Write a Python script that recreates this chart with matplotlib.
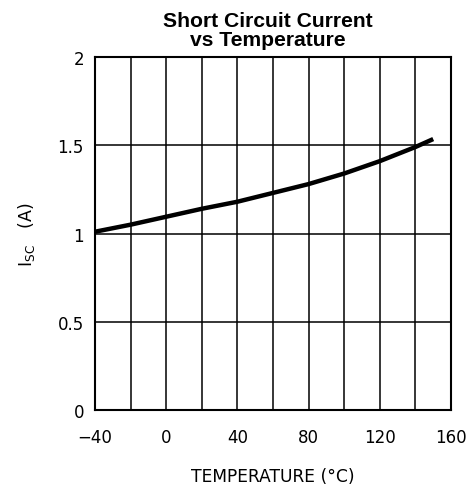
import matplotlib
matplotlib.use("Agg")
import matplotlib.pyplot as plt
from matplotlib.ticker import MultipleLocator

# values
temp_c = [-40, -20, 0, 20, 40, 60, 80, 100, 120, 140, 150]
isc_a = [1.01, 1.05, 1.095, 1.14, 1.18, 1.23, 1.28, 1.34, 1.41, 1.49, 1.535]

x_ticks = [-40, 0, 40, 80, 120, 160]
y_ticks = [0, 0.5, 1, 1.5, 2]
y_tick_labels = ['0', '0.5', '1', '1.5', '2']

plt.rcParams['font.family'] = 'DejaVu Sans'

fig = plt.figure(figsize=(4.74, 4.89), dpi=100)
ax = fig.add_axes([95 / 474, 78 / 489, 356 / 474, 353 / 489])

ax.plot(temp_c, isc_a, color='black', lw=3.2, solid_capstyle='butt')

ax.set_xlim(-40, 160)
ax.set_ylim(0, 2)
ax.set_xticks(x_ticks)
ax.set_xticklabels([str(t).replace('-', '\u2212') for t in x_ticks])
ax.set_yticks(y_ticks)
ax.set_yticklabels(y_tick_labels)
ax.xaxis.set_minor_locator(MultipleLocator(20))
ax.grid(which='both', color='black', lw=1.1)
ax.tick_params(which='both', length=0)
ax.tick_params(axis='x', pad=13, labelsize=12)
ax.tick_params(axis='y', pad=8, labelsize=12)
for s in ax.spines.values():
    s.set_linewidth(1.5)

ax.set_xlabel('TEMPERATURE (\u00b0C)', fontsize=12.3, labelpad=15)
ax.set_ylabel('I$_{\\mathregular{SC}}$   (A)', fontsize=12.5, labelpad=15)
ax.set_title('Short Circuit Current\nvs Temperature', fontsize=15.2,
             fontweight='bold', family='Liberation Sans', linespacing=0.98,
             pad=9, x=0.485)

fig.savefig('out.png', dpi=100)
